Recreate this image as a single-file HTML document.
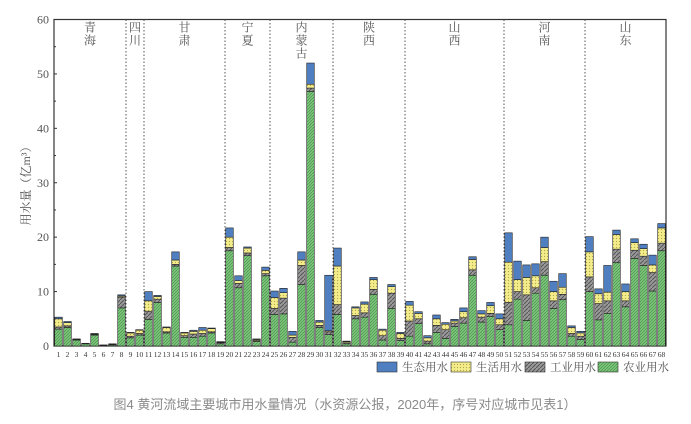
<!DOCTYPE html>
<html><head><meta charset="utf-8">
<style>
html,body{margin:0;padding:0;background:#fff;}
svg{display:block;font-family:"Liberation Serif","Noto Serif CJK SC",serif;}
</style></head>
<body>
<svg id="chart" width="691" height="424" viewBox="0 0 691 424" xmlns="http://www.w3.org/2000/svg">
<defs>
<pattern id="pg" width="3" height="3" patternUnits="userSpaceOnUse"><rect width="3" height="3" fill="#7cc47a"/><path d="M0,3L3,0" stroke="#3f8a46" stroke-width="0.6"/></pattern>
<pattern id="py" width="3" height="3" patternUnits="userSpaceOnUse"><rect width="3" height="3" fill="#f3ec8a"/><circle cx="1.5" cy="1.5" r="0.6" fill="#b5a64a"/></pattern>
<pattern id="pk" width="4" height="4" patternUnits="userSpaceOnUse"><rect width="4" height="4" fill="#9a9a9a"/><path d="M0,4L4,0" stroke="#555" stroke-width="1"/></pattern>
</defs>
<g id="plot"></g>
<text transform="translate(30,183) rotate(-90)" text-anchor="middle" font-size="12" fill="#555">用水量（亿m³）</text>
<g font-size="11.5" fill="#555">
<rect x="377" y="362" width="20" height="10" fill="#4f7fc0" stroke="#333" stroke-width="0.6"/>
<text x="402" y="371">生态用水</text>
<rect x="451" y="362" width="20" height="10" fill="url(#py)" stroke="#333" stroke-width="0.6"/>
<text x="476" y="371">生活用水</text>
<rect x="525" y="362" width="20" height="10" fill="url(#pk)" stroke="#333" stroke-width="0.6"/>
<text x="550" y="371">工业用水</text>
<rect x="598" y="362" width="20" height="10" fill="url(#pg)" stroke="#333" stroke-width="0.6"/>
<text x="623" y="371">农业用水</text>
</g>
<text x="345" y="409" text-anchor="middle" font-size="13" fill="#8a8a8a" font-family="Liberation Sans, Noto Sans CJK SC, sans-serif">图4 黄河流域主要城市用水量情况（水资源公报，2020年，序号对应城市见表1）</text>
</svg>
<script>
const agri=[3.1,3.4,1.1,0.4,2.0,0.1,0.2,7.0,1.5,2.0,4.9,8.0,2.4,14.7,1.6,1.6,1.8,2.4,0.4,17.5,10.7,16.6,0.8,12.9,5.8,5.9,0.7,11.3,46.8,3.4,2.1,5.8,0.4,5.0,5.3,9.5,1.1,6.9,1.0,1.8,4.1,0.4,2.5,1.4,3.6,4.2,13.0,4.4,5.4,3.0,3.9,8.6,4.7,9.7,13.0,6.9,8.5,1.8,1.2,10.0,4.8,6.0,15.3,7.2,16.1,14.8,10.1,17.5];
const industry=[0.4,0.3,0.1,0,0.1,0.05,0.1,2.0,0.3,0.3,1.5,0.6,0.2,0.3,0.3,0.6,0.5,0.2,0.2,0.6,0.8,0.5,0.2,0.4,1.1,2.9,0.9,3.5,0.6,0.4,0.5,1.8,0.2,0.6,0.8,0.9,0.8,2.8,0.4,2.8,0.9,0.5,1.3,1.6,0.6,1.0,1.0,0.9,0.6,0.9,4.1,1.4,4.7,1.0,2.5,1.4,1.0,0.5,0.6,2.7,3.0,2.3,2.5,1.1,1.5,1.7,3.4,1.4];
const life=[1.5,0.6,0.05,0.05,0.1,0.05,0.05,0.2,0.6,0.6,1.9,0.5,0.8,0.8,0.5,0.5,0.6,0.6,0.1,1.9,0.5,0.9,0.2,0.6,2.0,1.0,0.4,1.0,0.7,0.6,0.2,7.1,0.2,1.4,1.6,1.8,1.0,1.2,0.9,2.9,1.0,0.6,1.2,1.0,0.4,1.1,1.9,0.6,1.4,1.1,7.4,2.2,3.2,2.2,2.6,1.7,1.3,1.1,0.6,4.6,1.8,1.6,2.7,1.7,1.4,1.4,1.4,2.8];
const eco=[0.3,0.2,0.05,0.05,0.1,0,0.05,0.2,0.1,0.1,1.7,0.2,0.1,1.5,0.1,0.2,0.5,0.1,0.1,1.7,0.9,0.2,0.1,0.6,1.2,0.8,0.7,1.5,3.9,0.3,10.2,3.3,0.1,0.2,0.4,0.4,0.2,0.4,0.2,0.7,0.3,0.4,0.7,0.3,0.3,0.7,0.5,0.6,0.6,0.9,5.4,3.4,2.3,2.2,1.9,1.9,2.5,0.3,0.3,2.8,0.9,4.9,0.8,1.4,0.7,0.8,1.8,0.8];
const yTicks=[0,10,20,30,40,50,60];
const regions=["青海","四川","甘肃","宁夏","内蒙古","陕西","山西","河南","山东"];
const regionEnds=[8,10,19,24,31,39,50,59,68];

const NS="http://www.w3.org/2000/svg";
const X0=54,X1=666,Y0=346,Y1=19.5,N=agri.length,slot=(X1-X0)/N,bw=slot*0.84;
const y=v=>Y0-(v/60)*(Y0-Y1);
const xc=i=>X0+(i+0.5)*slot;
const g=document.getElementById('plot');
function mk(t,a){const e=document.createElementNS(NS,t);for(const k in a)e.setAttribute(k,a[k]);g.appendChild(e);return e;}
let f=mk('rect',{x:X0,y:Y1,width:X1-X0,height:Y0-Y1,fill:'none',stroke:'#333','stroke-width':1.2});


yTicks.forEach(v=>{
 let t=mk('text',{x:X0-5,y:y(v)+4,'text-anchor':'end','font-size':12,fill:'#555'});t.textContent=v;
 
 
 mk('line',{x1:X0,x2:X0+3,y1:y(v),y2:y(v),stroke:'#333','stroke-width':1});
 if(v<60)mk('line',{x1:X0,x2:X0+2,y1:y(v+5),y2:y(v+5),stroke:'#333','stroke-width':1});
});
let start=0;
regionEnds.forEach((e,k)=>{
 if(k<regionEnds.length-1){let l=mk('line',{x1:X0+e*slot,x2:X0+e*slot,y1:Y1,y2:Y0,stroke:'#444','stroke-width':0.9,'stroke-dasharray':'1.5,2'});
  
  }
 const cx=X0+(start+e)/2*slot;
 [...regions[k]].forEach((ch,j)=>{let t=mk('text',{x:cx,y:Y1+12+j*13,'text-anchor':'middle','font-size':12,fill:'#555'});t.textContent=ch;
  
  });
 start=e;
});
const series=[[agri,'url(#pg)','agri'],[industry,'url(#pk)','industry'],[life,'url(#py)','life'],[eco,'#4f7fc0','eco']];
for(let i=0;i<N;i++){
 let base=0;
 series.forEach(([arr,fill,nm])=>{
  const v=arr[i];if(v<=0)return;
  const r=mk('rect',{x:xc(i)-bw/2,y:y(base+v),width:bw,height:y(base)-y(base+v),fill:fill,stroke:'#222','stroke-width':0.6});
  
  
  base+=v;
 });
 const t=mk('text',{x:xc(i),y:Y0+11,'text-anchor':'middle','font-size':7.5,fill:'#333'});t.textContent=i+1;
 
 
}
</script>
</body></html>
